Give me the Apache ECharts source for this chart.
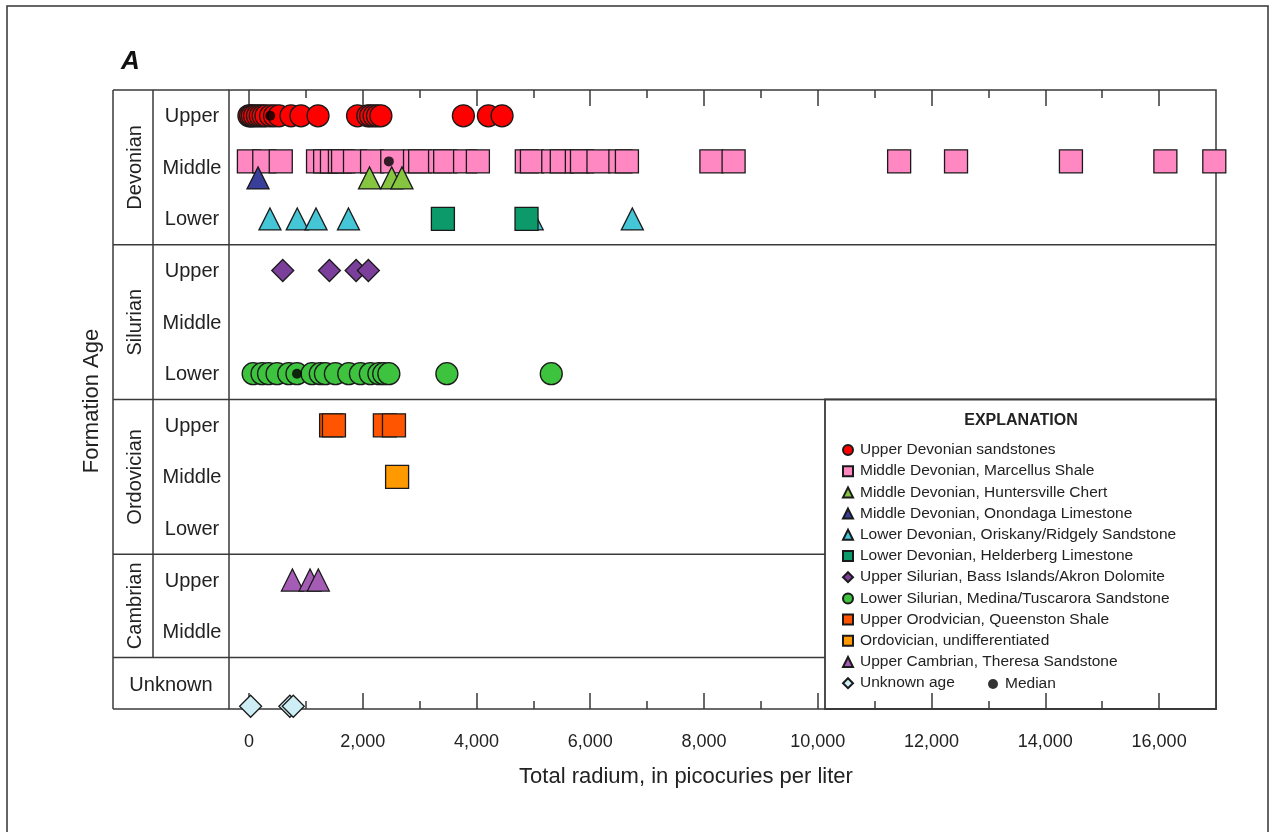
<!DOCTYPE html>
<html>
<head>
<meta charset="utf-8">
<script src="https://cdn.jsdelivr.net/npm/echarts@6/dist/echarts.min.js"></script>
<style>
html,body{margin:0;padding:0;background:#fff;}
#chart{width:1274px;height:832px;}
</style>
</head>
<body>
<div id="chart"></div>
<script>
// ---------------- DATA ----------------
const periodNames = ['Devonian', 'Silurian', 'Ordovician', 'Cambrian', 'Unknown'];
const periodRowCounts = [3, 3, 3, 2, 1];
const subAgeLabels = ['Upper', 'Middle', 'Lower', 'Upper', 'Middle', 'Lower', 'Upper', 'Middle', 'Lower', 'Upper', 'Middle', ''];

const xTickLabels = [0, 2000, 4000, 6000, 8000, 10000, 12000, 14000, 16000];
const xMinorTicks = [1000, 3000, 5000, 7000, 9000, 11000, 13000, 15000];

const upperDevonianSandstones = [0, 30, 60, 100, 150, 200, 250, 300, 380, 450, 530, 740, 915, 1215, 1910, 2090, 2140, 2200, 2260, 2320, 3770, 4210, 4450];
const marcellusShale = [0, 270, 560, 1215, 1340, 1460, 1600, 1655, 1865, 2165, 2520, 2920, 3010, 3360, 3450, 3800, 4025, 4885, 4975, 5350, 5500, 5765, 5855, 6145, 6530, 6645, 8130, 8520, 11430, 12430, 14450, 16110, 16970];
const huntersvilleChert = [2120, 2510, 2690];
const onondagaLimestone = [160];
const oriskanyRidgelySandstone = [370, 850, 1180, 1750, 4980, 6740];
const helderbergLimestone = [3410, 4880];
const bassIslandsAkronDolomite = [595, 1415, 1885, 2100];
const medinaTuscaroraSandstone = [75, 230, 345, 495, 700, 845, 1110, 1255, 1345, 1520, 1755, 1960, 2135, 2285, 2370, 2460, 3480, 5315];
const queenstonShale = [1445, 1495, 2390, 2550];
const ordovicianUndifferentiated = [2605];
const theresaSandstone = [765, 1075, 1220];
const unknownAge = [30, 720, 780];
const medianValues = [375, 2460, 845];
const medianRows = [0, 1, 5];

// ---------------- SERIES TABLE (style + row) ----------------
const FONT = '"Liberation Sans", Arial, sans-serif';
const TXT = '#222';
const LINE = '#3a3a3a';

const seriesDefs = [
  {name: 'Upper Devonian sandstones', values: upperDevonianSandstones, row: 0, symbol: 'circle', size: 22, color: '#ff0000', dy: 0},
  {name: 'Middle Devonian, Marcellus Shale', values: marcellusShale, row: 1, symbol: 'rect', size: 23, color: '#ff88c2', dy: -6},
  {name: 'Middle Devonian, Huntersville Chert', values: huntersvilleChert, row: 1, symbol: 'triangle', size: 22, color: '#86c540', dy: 10.5},
  {name: 'Middle Devonian, Onondaga Limestone', values: onondagaLimestone, row: 1, symbol: 'triangle', size: 22, color: '#3b3f9c', dy: 10.5},
  {name: 'Lower Devonian, Oriskany/Ridgely Sandstone', values: oriskanyRidgelySandstone, row: 2, symbol: 'triangle', size: 22, color: '#45c6d6', dy: 0},
  {name: 'Lower Devonian, Helderberg Limestone', values: helderbergLimestone, row: 2, symbol: 'rect', size: 23, color: '#0c9a6a', dy: 0},
  {name: 'Upper Silurian, Bass Islands/Akron Dolomite', values: bassIslandsAkronDolomite, row: 3, symbol: 'diamond', size: 22, color: '#7b3f9b', dy: 0},
  {name: 'Lower Silurian, Medina/Tuscarora Sandstone', values: medinaTuscaroraSandstone, row: 5, symbol: 'circle', size: 22, color: '#3ec33e', dy: 0},
  {name: 'Upper Orodvician, Queenston Shale', values: queenstonShale, row: 6, symbol: 'rect', size: 23, color: '#ff5500', dy: 0},
  {name: 'Ordovician, undifferentiated', values: ordovicianUndifferentiated, row: 7, symbol: 'rect', size: 23, color: '#ff9900', dy: 0},
  {name: 'Upper Cambrian, Theresa Sandstone', values: theresaSandstone, row: 9, symbol: 'triangle', size: 22, color: '#a45cb4', dy: 0},
  {name: 'Unknown age', values: unknownAge, row: 11, symbol: 'diamond', size: 22, color: '#cdeef5', dy: 23}
];
const medianDy = [0, -6, 0];

const totalRows = subAgeLabels.length;
const xMin = -350, xMax = 17000;

const series = seriesDefs.map(d => ({
  type: 'scatter',
  name: d.name,
  symbol: d.symbol,
  symbolSize: d.size,
  symbolOffset: [0, d.dy],
  itemStyle: {color: d.color, borderColor: '#1a1a1a', borderWidth: 1.3, opacity: 1},
  emphasis: {disabled: true},
  clip: false,
  z: 13,
  data: d.values.map(v => [v, d.row + 0.5])
}));
series.push({
  type: 'scatter',
  name: 'Median',
  symbol: 'circle',
  symbolSize: 10,
  itemStyle: {color: '#000', borderWidth: 0},
  emphasis: {disabled: true},
  z: 14,
  data: medianValues.map((v, i) => ({value: [v, medianRows[i] + 0.5], symbolOffset: [0, medianDy[i]]}))
});

const tickStyle = {color: LINE, width: 1.5};
function xAx(pos, ticks, len, labels) {
  return {
    type: 'value', position: pos, min: xMin, max: xMax, z: 12,
    axisLine: {show: false, onZero: false},
    splitLine: {show: false},
    axisTick: {show: true, inside: true, length: len, customValues: ticks, lineStyle: tickStyle},
    axisLabel: labels ? {
      show: true, customValues: xTickLabels, margin: 24,
      fontFamily: FONT, fontSize: 18, color: TXT,
      formatter: v => Number(v).toLocaleString('en-US')
    } : {show: false}
  };
}

const chart = echarts.init(document.getElementById('chart'), null, {renderer: 'canvas'});
const option = {
  animation: false,
  backgroundColor: '#fff',
  grid: {left: 229, right: 58, top: 90, bottom: 123, show: true, borderColor: LINE, borderWidth: 1.5, backgroundColor: 'transparent'},
  xAxis: [
    xAx('bottom', xTickLabels, 16, true),
    xAx('bottom', xMinorTicks, 8, false),
    xAx('top', xTickLabels, 16, false),
    xAx('top', xMinorTicks, 8, false)
  ],
  yAxis: {
    type: 'value', min: 0, max: totalRows, inverse: true,
    axisLine: {show: false, onZero: false}, axisTick: {show: false}, axisLabel: {show: false}, splitLine: {show: false}
  },
  legend: [
    {
      orient: 'vertical', left: 837, top: 437, itemWidth: 10, itemHeight: 10, itemGap: 5.2,
      selectedMode: false, z: 20,
      data: seriesDefs.map(d => d.name),
      textStyle: {fontFamily: FONT, fontSize: 15.5, color: TXT, padding: [0, 0, 0, 2], lineHeight: 15}
    },
    {
      orient: 'horizontal', left: 983, top: 671, itemWidth: 10, itemHeight: 10,
      selectedMode: false, z: 20,
      data: ['Median'],
      textStyle: {fontFamily: FONT, fontSize: 15.5, color: TXT, padding: [0, 0, 0, 2], lineHeight: 15}
    }
  ],
  series: series
};
chart.setOption(option);

// ---------------- TABLE / DECORATION via graphic ----------------
const yPix = v => chart.convertToPixel({yAxisIndex: 0}, v);
const gridLeft = 229, gridRight = 1274 - 58;
const tableLeft = 113, dividerX = 153;
const yTop = yPix(0), yBot = yPix(totalRows);
const lineSty = {stroke: LINE, lineWidth: 1.5};
const g = [];

// outer frame
g.push({type: 'rect', shape: {x: 7, y: 6, width: 1261, height: 900}, style: {fill: 'none', stroke: '#333', lineWidth: 1.5}, z: 1});

// table box
g.push({type: 'line', shape: {x1: tableLeft, y1: yTop, x2: gridLeft, y2: yTop}, style: lineSty, z: 1});
g.push({type: 'line', shape: {x1: tableLeft, y1: yBot, x2: gridLeft, y2: yBot}, style: lineSty, z: 1});
g.push({type: 'line', shape: {x1: tableLeft, y1: yTop, x2: tableLeft, y2: yBot}, style: lineSty, z: 1});

let cum = 0;
periodNames.forEach((p, i) => {
  const start = cum, end = cum + periodRowCounts[i];
  cum = end;
  const yc = (yPix(start) + yPix(end)) / 2;
  if (periodRowCounts[i] > 1) {
    g.push({type: 'line', shape: {x1: dividerX, y1: yPix(start), x2: dividerX, y2: yPix(end)}, style: lineSty, z: 1});
    g.push({type: 'text', x: (tableLeft + dividerX) / 2 + 2, y: yc, rotation: Math.PI / 2,
      style: {text: p, fontFamily: FONT, fontSize: 20, fill: TXT, align: 'center', verticalAlign: 'middle'}, z: 2});
  } else {
    g.push({type: 'text', x: (tableLeft + gridLeft) / 2, y: yc + 2,
      style: {text: p, fontFamily: FONT, fontSize: 20, fill: TXT, align: 'center', verticalAlign: 'middle'}, z: 2});
  }
  if (end < totalRows) {
    g.push({type: 'line', shape: {x1: tableLeft, y1: yPix(end), x2: gridRight, y2: yPix(end)}, style: lineSty, z: 1});
  }
});

subAgeLabels.forEach((s, r) => {
  if (!s) return;
  g.push({type: 'text', x: (dividerX + gridLeft) / 2 + 1, y: (yPix(r) + yPix(r + 1)) / 2 + 1,
    style: {text: s, fontFamily: FONT, fontSize: 20, fill: TXT, align: 'center', verticalAlign: 'middle'}, z: 2});
});

// legend box
const legTop = yPix(6);
g.push({type: 'rect', shape: {x: 825, y: legTop, width: gridRight - 825, height: yBot - legTop},
  style: {fill: '#fff', stroke: LINE, lineWidth: 1.8}, z: 10});
g.push({type: 'text', x: 1021, y: 421,
  style: {text: 'EXPLANATION', fontFamily: FONT, fontSize: 16, fontWeight: 'bold', fill: TXT, align: 'center', verticalAlign: 'middle'}, z: 11});

// titles
g.push({type: 'text', x: 121, y: 62,
  style: {text: 'A', fontFamily: FONT, fontSize: 26, fontWeight: 'bold', fontStyle: 'italic', fill: '#111', align: 'left', verticalAlign: 'middle'}, z: 2});
g.push({type: 'text', x: 686, y: 777,
  style: {text: 'Total radium, in picocuries per liter', fontFamily: FONT, fontSize: 22, fill: TXT, align: 'center', verticalAlign: 'middle'}, z: 2});
g.push({type: 'text', x: 92, y: 401, rotation: Math.PI / 2,
  style: {text: 'Formation Age', fontFamily: FONT, fontSize: 22, fill: TXT, align: 'center', verticalAlign: 'middle'}, z: 2});

chart.setOption({graphic: g});
</script>
</body>
</html>
